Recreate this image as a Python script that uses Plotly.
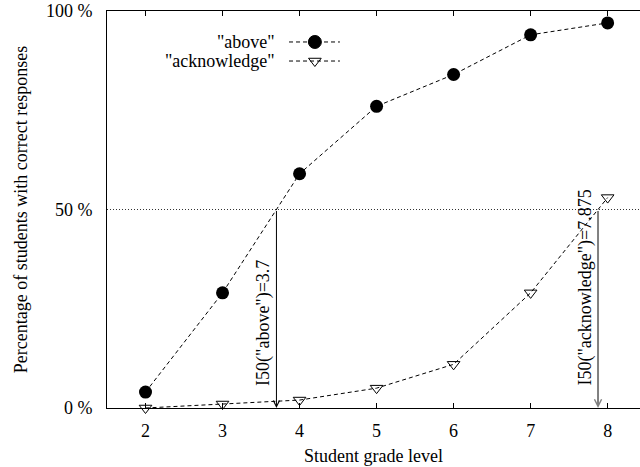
import plotly.graph_objects as go

grades = [2, 3, 4, 5, 6, 7, 8]
above = [4, 29, 59, 76, 84, 94, 97]
acknowledge = [0, 1, 2, 5, 11, 29, 53]
i50_above = 3.7
i50_ack = 7.875
y_ticks = [0, 50, 100]
y_tick_labels = ["0 %", "50 %", "100 %"]
x_ticks = [2, 3, 4, 5, 6, 7, 8]

FONT = "Liberation Serif"
FS = 18
DASH = "4px,3px"
fig = go.Figure()

fig.add_trace(go.Scatter(
    x=grades, y=above, mode="lines+markers", name='"above"',
    line=dict(color="black", width=1, dash=DASH),
    marker=dict(symbol="circle", size=13, color="black"),
    showlegend=False, cliponaxis=False))
fig.add_trace(go.Scatter(
    x=grades, y=acknowledge, mode="lines+markers", name='"acknowledge"',
    line=dict(color="black", width=1, dash=DASH),
    marker=dict(symbol="triangle-down-open", size=11, color="black",
                line=dict(width=1, color="black")),
    showlegend=False, cliponaxis=False))

# Legend (text on the left of the sample, like the original)
leg_y = [0.922, 0.874]
leg_names = ['"above"', '"acknowledge"']
leg_symbols = ["circle", "triangle-down-open"]
leg_sizes = [13, 11]
for yy, nm, sym, sz in zip(leg_y, leg_names, leg_symbols, leg_sizes):
    fig.add_trace(go.Scatter(
        x=[0.3415, 0.390, 0.437], y=[yy, yy, yy], mode="lines",
        line=dict(color="black", width=1, dash=DASH),
        xaxis="x2", yaxis="y2", showlegend=False, hoverinfo="skip"))
    fig.add_trace(go.Scatter(
        x=[0.390], y=[yy], mode="markers",
        marker=dict(symbol=sym, size=sz, color="black", line=dict(width=1, color="black")),
        xaxis="x2", yaxis="y2", showlegend=False, hoverinfo="skip"))
    fig.add_annotation(x=0.319, y=yy, xref="paper", yref="paper", text=nm,
                       showarrow=False, xanchor="right", yanchor="middle",
                       font=dict(family=FONT, size=FS, color="black"))

# I50 arrows
for xv, col, w, label in [(i50_above, "black", 1, 'I50("above")=3.7'),
                          (i50_ack, "#808080", 2, 'I50("acknowledge")=7.875')]:
    fig.add_annotation(x=xv, y=0, ax=xv, ay=50, xref="x", yref="y", axref="x", ayref="y",
                       text="", showarrow=True, arrowhead=5, arrowsize=1.2 if w == 1 else 0.7,
                       arrowwidth=w, arrowcolor=col)
    fig.add_annotation(x=xv, y=0, xref="x", yref="y", text=label, textangle=-90,
                       showarrow=False, xanchor="right", yanchor="bottom",
                       xshift=-1, yshift=20,
                       font=dict(family=FONT, size=FS, color="black"))

fig.update_layout(
    width=640, height=467,
    margin=dict(l=107, r=0, t=11, b=59),
    paper_bgcolor="white", plot_bgcolor="white",
    font=dict(family=FONT, size=FS, color="black"),
    xaxis=dict(range=[1.5, 8.42], tickvals=x_ticks, ticks="inside", ticklen=5,
               tickcolor="black", showline=True, linecolor="black", linewidth=1,
               mirror="ticks", showgrid=False, zeroline=False,
               ticklabelstandoff=6, tickfont=dict(family=FONT, size=FS),
               title=dict(text="Student grade level", font=dict(family=FONT, size=FS), standoff=9)),
    yaxis=dict(range=[0, 100], tickvals=y_ticks, ticktext=y_tick_labels, ticks="",
               showline=True, linecolor="black", linewidth=1, zeroline=False,
               showgrid=True, gridcolor="#333333", griddash="1px,2px", gridwidth=1,
               ticklabelstandoff=10, tickfont=dict(family=FONT, size=FS),
               title=dict(text="Percentage of students with correct responses",
                          font=dict(family=FONT, size=FS), standoff=13)),
    xaxis2=dict(range=[0, 1], overlaying="x", visible=False, fixedrange=True),
    yaxis2=dict(range=[0, 1], overlaying="y", visible=False, fixedrange=True),
)

fig.write_html("out.html", config={"displayModeBar": False},
               post_script="document.body.style.margin='0';")
